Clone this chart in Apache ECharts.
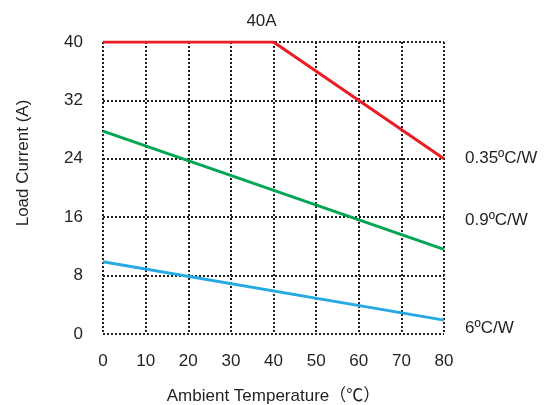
<!DOCTYPE html>
<html lang="en">
  <head>
    <meta charset="UTF-8" />
    <title>Load Current vs Ambient Temperature</title>
    <script src="https://cdn.jsdelivr.net/npm/echarts@6/dist/echarts.min.js"></script>
    <style>
      body {
        margin: 0;
        background-color: #ffffff;
      }

      #chart {
        width: 554px;
        height: 405px;
      }
    </style>
  </head>
  <body>
    <div id="chart"></div>
    <script>
      const chart = echarts.init(document.getElementById("chart"));

      // curves: [ambient temp, load current]
      var red = [[0, 40], [40, 40], [80, 24]];
      var green = [[0, 27.8], [80, 11.6]];
      var blue = [[0, 9.9], [80, 1.9]];
      var names = ["0.35ºC/W", "0.9ºC/W", "6ºC/W"];
      var peakText = "40A";

      var font = "Liberation Sans, Arial, Noto Sans CJK SC, sans-serif";
      var textColor = "#231f20";

      var gridLine = {
        show: true,
        lineStyle: { color: "#231f20", width: 2, type: [2, 2] },
      };

      // red series, with the "40A" note on the knee point
      var redData = red.map(function (p, i) {
        if (i !== 1) return p;
        return {
          value: p,
          label: {
            show: true,
            formatter: peakText,
            position: "top",
            distance: 12,
            offset: [-12, 0],
            fontSize: 17,
            fontFamily: font,
            color: textColor,
          },
        };
      });

      function endLabel(dy) {
        return {
          show: true,
          formatter: "{a}",
          distance: 21,
          offset: [0, dy],
          fontSize: 17,
          fontFamily: font,
          color: textColor,
        };
      }

      const options = {
        animation: false,
        grid: {
          left: 103,
          right: 110,
          top: 42,
          bottom: 71,
          outerBoundsMode: "none",
        },
        xAxis: {
          type: "value",
          min: 0,
          max: 80,
          interval: 10,
          name: "Ambient Temperature（℃）",
          nameLocation: "middle",
          nameGap: 54,
          nameTextStyle: { fontSize: 17, fontFamily: font, color: textColor },
          axisLine: { show: false },
          axisTick: { show: false },
          axisLabel: {
            margin: 19,
            fontSize: 17,
            fontFamily: font,
            color: textColor,
          },
          splitLine: gridLine,
        },
        yAxis: {
          type: "value",
          min: 0,
          max: 40,
          interval: 8,
          axisLine: { show: false },
          axisTick: { show: false },
          axisLabel: {
            margin: 20,
            fontSize: 17,
            fontFamily: font,
            color: textColor,
          },
          splitLine: gridLine,
        },
        graphic: [
          {
            type: "text",
            x: 23,
            y: 163,
            rotation: Math.PI / 2,
            style: {
              text: "Load Current (A)",
              fontSize: 17,
              fontFamily: font,
              fill: textColor,
              align: "center",
              verticalAlign: "middle",
            },
          },
        ],
        series: [
          {
            name: names[0],
            type: "line",
            data: redData,
            symbolSize: 0,
            lineStyle: { color: "#ec1c24", width: 3 },
            itemStyle: { color: "#ec1c24" },
            endLabel: endLabel(0),
          },
          {
            name: names[1],
            type: "line",
            data: green,
            showSymbol: false,
            lineStyle: { color: "#00a651", width: 3 },
            itemStyle: { color: "#00a651" },
            endLabel: endLabel(-29),
          },
          {
            name: names[2],
            type: "line",
            data: blue,
            showSymbol: false,
            lineStyle: { color: "#27aae1", width: 3 },
            itemStyle: { color: "#27aae1" },
            endLabel: endLabel(8),
          },
        ],
      };

      chart.setOption(options);
    </script>
  </body>
</html>
